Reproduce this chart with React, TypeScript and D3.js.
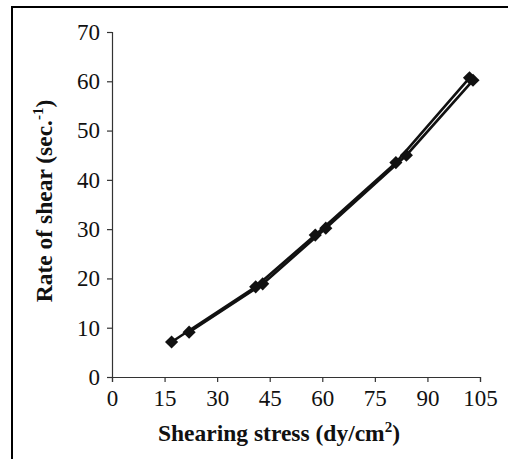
import { useEffect, useRef } from 'react';
import * as d3 from 'd3';

// Shearing stress (dy/cm2) vs rate of shear (sec-1), two runs
const upStress = [17, 41, 58, 81, 102];
const upRate = [7.1, 18.3, 28.8, 43.5, 60.7];
const downStress = [22, 43, 61, 84, 103];
const downRate = [9.1, 18.9, 30.2, 45.0, 60.2];

const xTicks = [0, 15, 30, 45, 60, 75, 90, 105];
const yTicks = [0, 10, 20, 30, 40, 50, 60, 70];

const App = () => {
  const svgRef = useRef<SVGSVGElement>(null);

  useEffect(() => {
    const svg = d3.select(svgRef.current);
    svg.selectAll('*').remove();

    const width = 508;
    const height = 459;
    const font = '"Liberation Serif", "Times New Roman", serif';

    const x = d3.scaleLinear().domain([0, 105]).range([112, 480]);
    const y = d3.scaleLinear().domain([0, 70]).range([377, 32]);

    // outer frame (runs off the right and bottom edge)
    svg.append('rect')
      .attr('x', 12).attr('y', 7)
      .attr('width', 520).attr('height', 470)
      .attr('fill', 'none')
      .attr('stroke', '#000')
      .attr('stroke-width', 2);

    // axes
    const xAxis = svg.append('g')
      .attr('transform', `translate(0,${y(0)})`)
      .call(d3.axisBottom(x).tickValues(xTicks).tickSizeOuter(0).tickSize(5).tickPadding(8));
    const yAxis = svg.append('g')
      .attr('transform', `translate(${x(0)},0)`)
      .call(d3.axisLeft(y).tickValues(yTicks).tickSizeOuter(0).tickSize(5).tickPadding(7));

    [xAxis, yAxis].forEach(g => {
      g.select('.domain').attr('stroke', '#333').attr('stroke-width', 1.2);
      g.selectAll('.tick line').attr('stroke', '#333').attr('stroke-width', 1.2);
      g.selectAll('.tick text')
        .attr('fill', '#111')
        .style('font-family', font)
        .style('font-size', '23px');
    });
    xAxis.selectAll('.tick text').attr('dy', '0.7em');

    // series
    const line = d3.line<[number, number]>()
      .x(d => x(d[0]))
      .y(d => y(d[1]));

    const series: [number, number][][] = [
      upStress.map((s, i) => [s, upRate[i]]),
      downStress.map((s, i) => [s, downRate[i]]),
    ];

    series.forEach(pts => {
      svg.append('path')
        .datum(pts)
        .attr('d', line)
        .attr('fill', 'none')
        .attr('stroke', '#111')
        .attr('stroke-width', 2.6);
    });

    const diamond = d3.symbol().type(d3.symbolDiamond2).size(110);
    series.forEach(pts => {
      svg.append('g')
        .selectAll('path')
        .data(pts)
        .join('path')
          .attr('transform', d => `translate(${x(d[0])},${y(d[1])})`)
          .attr('d', diamond)
          .attr('fill', '#111');
    });

    // axis titles
    const xTitle = svg.append('text')
      .attr('x', 279).attr('y', 441)
      .attr('text-anchor', 'middle')
      .style('font-family', font)
      .style('font-size', '23.5px')
      .style('font-weight', 'bold')
      .attr('fill', '#111');
    xTitle.append('tspan').text('Shearing stress (dy/cm');
    xTitle.append('tspan').attr('dy', -9).style('font-size', '15px').text('2');
    xTitle.append('tspan').attr('dy', 9).text(')');

    const yTitle = svg.append('text')
      .attr('transform', `translate(52,201) rotate(-90)`)
      .attr('text-anchor', 'middle')
      .style('font-family', font)
      .style('font-size', '23.5px')
      .style('font-weight', 'bold')
      .attr('fill', '#111');
    yTitle.append('tspan').text('Rate of shear (sec.');
    yTitle.append('tspan').attr('dy', -9).style('font-size', '15px').text('-1');
    yTitle.append('tspan').attr('dy', 9).text(')');

    svg.attr('width', width).attr('height', height);
  }, []);

  return (
    <svg ref={svgRef} style={{ position: 'absolute', left: 0, top: 0 }} />
  );
};

export default App;
